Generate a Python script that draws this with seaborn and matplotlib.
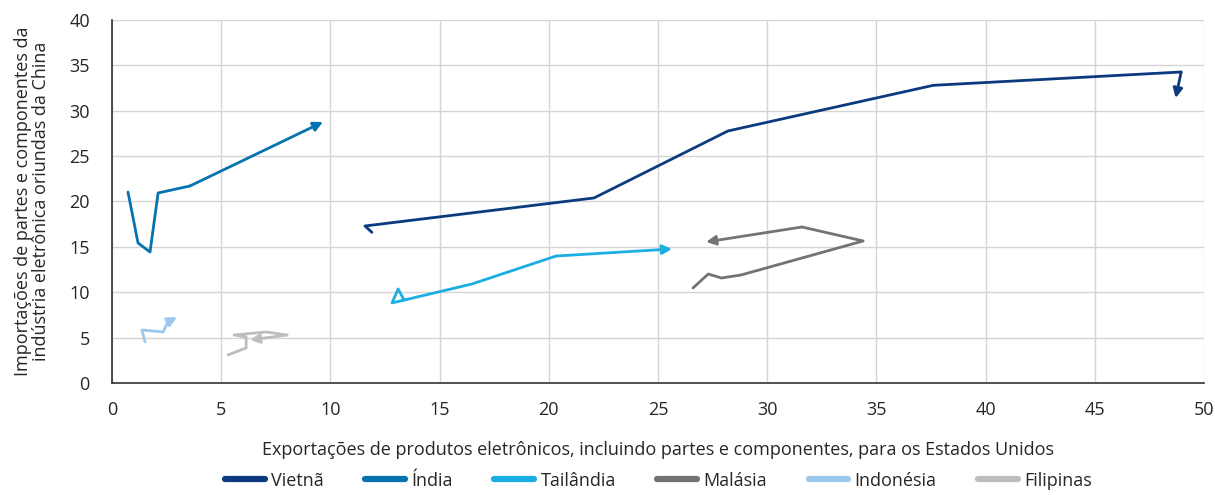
import pandas as pd
import matplotlib.pyplot as plt
import seaborn as sns
from matplotlib.lines import Line2D

# Trajectories (x = exports to US, y = imports from China), last point = arrow tip
countries = ['Vietnã', 'Índia', 'Tailândia', 'Malásia', 'Indonésia', 'Filipinas']
colors = ['#0b3a7e', '#0573b0', '#1aaee2', '#737373', '#9dc8ee', '#bdbdbd']

vietna_x = [11.9, 11.58, 22.07, 28.2, 37.6, 48.95, 48.7]
vietna_y = [16.6, 17.3, 20.39, 27.77, 32.8, 34.27, 31.4]

india_x = [0.73, 1.19, 1.74, 2.11, 3.57, 9.66]
india_y = [21.05, 15.43, 14.43, 20.94, 21.71, 28.76]

tailandia_x = [13.37, 13.10, 12.82, 16.48, 20.33, 25.64]
tailandia_y = [9.15, 10.36, 8.82, 10.91, 13.99, 14.77]

malasia_x = [26.6, 27.3, 27.9, 28.8, 34.39, 31.59, 27.2]
malasia_y = [10.47, 12.01, 11.57, 11.9, 15.65, 17.19, 15.54]

indonesia_x = [1.51, 1.37, 2.34, 2.56, 2.98]
indonesia_y = [4.52, 5.84, 5.62, 6.72, 7.27]

filipinas_x = [5.31, 6.14, 6.14, 5.59, 7.05, 8.01, 6.32]
filipinas_y = [3.09, 3.86, 5.07, 5.29, 5.62, 5.29, 4.74]

series = [(vietna_x, vietna_y), (india_x, india_y), (tailandia_x, tailandia_y),
          (malasia_x, malasia_y), (indonesia_x, indonesia_y), (filipinas_x, filipinas_y)]

sns.set_style('white')
plt.rcParams['font.family'] = ['Open Sans', 'DejaVu Sans']

fig = plt.figure(figsize=(12.15, 4.95), dpi=100)
ax = fig.add_axes([0.0922, 0.2263, 0.8988, 0.7333])

for name, color, (xs, ys) in zip(countries, colors, series):
    df = pd.DataFrame({'x': xs[:-1], 'y': ys[:-1]})
    sns.lineplot(data=df, x='x', y='y', sort=False, estimator=None, color=color,
                 linewidth=2.0, ax=ax)
    ax.annotate('', xy=(xs[-1], ys[-1]), xytext=(xs[-2], ys[-2]),
                arrowprops=dict(arrowstyle='-|>', color=color, lw=2.0,
                                mutation_scale=14, shrinkA=0, shrinkB=0))

ax.set_xlim(0, 50)
ax.set_ylim(0, 40)
ax.set_xticks(range(0, 51, 5))
ax.set_yticks(range(0, 41, 5))
ax.grid(True, color='#d4d4d4', linewidth=1)
ax.set_axisbelow(True)
for s in ['top', 'right']:
    ax.spines[s].set_visible(False)
for s in ['left', 'bottom']:
    ax.spines[s].set_color('#333333')
    ax.spines[s].set_linewidth(1.2)
ax.tick_params(axis='y', length=12, width=1, color='#555555', labelsize=13, pad=4)
ax.tick_params(axis='x', length=8, width=1, color='#555555', labelsize=13, pad=5)

ax.set_xlabel('Exportações de produtos eletrônicos, incluindo partes e componentes, para os Estados Unidos',
              fontsize=13, labelpad=16)
ax.set_ylabel('Importações de partes e componentes da\nindústria eletrônica oriundas da China',
              fontsize=13, labelpad=14, linespacing=0.95)

handles = [Line2D([0], [0], color=c, lw=4.5, solid_capstyle='round') for c in colors]
fig.legend(handles, countries, loc='lower center', bbox_to_anchor=(0.542, -0.022), ncol=6,
           frameon=False, fontsize=13, handlelength=2.2, columnspacing=2.3, handletextpad=0.35)

fig.savefig('out.png', dpi=100)
